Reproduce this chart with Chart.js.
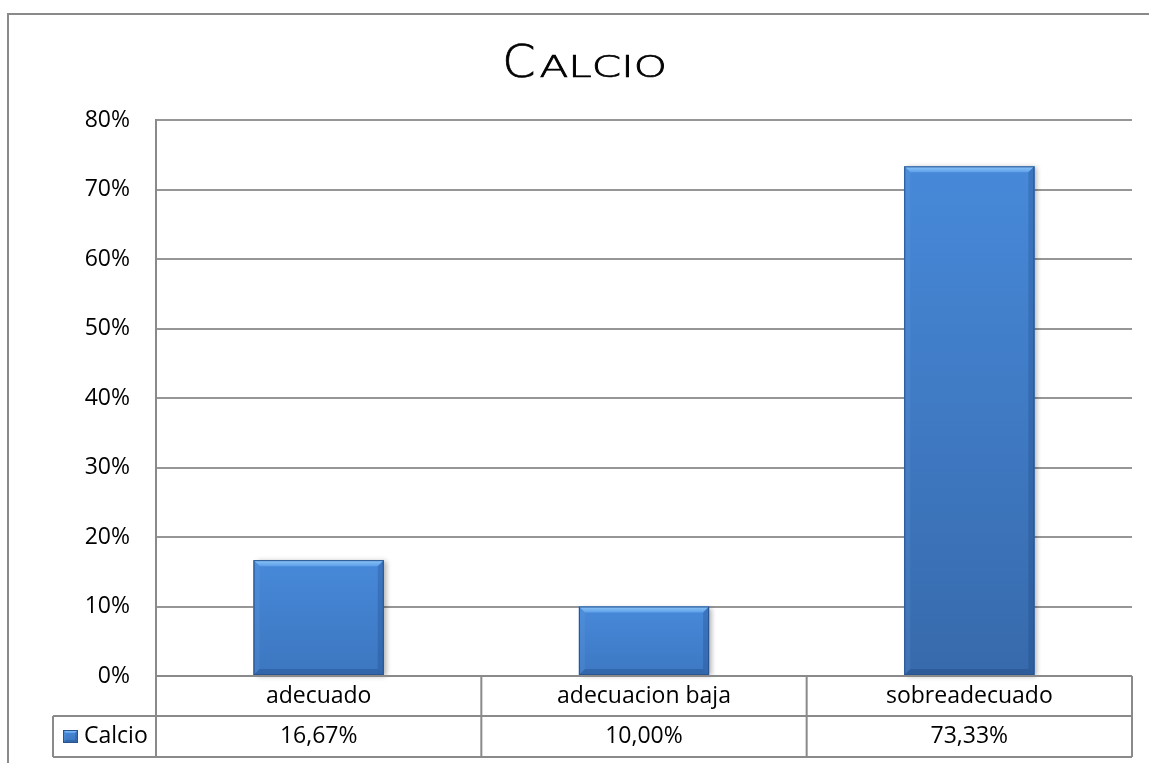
<!DOCTYPE html>
<html>
<head>
<meta charset="utf-8">
<title>Calcio</title>
<script src="https://cdn.jsdelivr.net/npm/chart.js@4/dist/chart.umd.min.js"></script>
<style>
  html, body { margin: 0; padding: 0; background: #ffffff; }
  #wrap { width: 1149px; height: 763px; position: relative; }
</style>
</head>
<body>
<div id="wrap"><canvas id="chart" width="1149" height="763"></canvas></div>
<script>
// ---- data ----
const chartTitle = 'Calcio';
const seriesName = 'Calcio';
const categories = ['adecuado', 'adecuacion baja', 'sobreadecuado'];
const calcioValues = [16.67, 10.00, 73.33];
const yMin = 0;
const yMax = 80;
const yStep = 10;

const textFont = "'Open Sans', 'Liberation Sans', sans-serif";
const lineGray = '#8a8a8a';

function fmtPct(v) {
  return v.toFixed(2).replace('.', ',') + '%';
}

// blend two hex colours
function mix(a, b, t) {
  const pa = [1, 3, 5].map(i => parseInt(a.substr(i, 2), 16));
  const pb = [1, 3, 5].map(i => parseInt(b.substr(i, 2), 16));
  const c = pa.map((v, i) => Math.round(v + (pb[i] - v) * t));
  return 'rgb(' + c.join(',') + ')';
}

// paints a bevelled blue block inside the given rectangle
function bevelBlock(ctx, l, t, w, h, depth, b) {
  const r = l + w, bt = t + h;
  const face = ctx.createLinearGradient(0, t, 0, bt);
  face.addColorStop(0, '#4789d9');
  face.addColorStop(1, mix('#3e7ac6', '#3668aa', depth));
  ctx.fillStyle = face;
  ctx.fillRect(l, t, w, h);

  // top bevel
  const tg = ctx.createLinearGradient(0, t, 0, t + b);
  tg.addColorStop(0, '#8ec6f8');
  tg.addColorStop(1, '#5d9fe8');
  ctx.fillStyle = tg;
  ctx.beginPath();
  ctx.moveTo(l, t); ctx.lineTo(r, t); ctx.lineTo(r - b, t + b); ctx.lineTo(l + b, t + b);
  ctx.closePath(); ctx.fill();

  // left bevel
  ctx.fillStyle = 'rgba(120,170,230,0.16)';
  ctx.beginPath();
  ctx.moveTo(l, t); ctx.lineTo(l + b, t + b); ctx.lineTo(l + b, bt - b); ctx.lineTo(l, bt);
  ctx.closePath(); ctx.fill();

  // right bevel
  ctx.fillStyle = 'rgba(15,45,95,0.2)';
  ctx.beginPath();
  ctx.moveTo(r, t); ctx.lineTo(r - b, t + b); ctx.lineTo(r - b, bt - b); ctx.lineTo(r, bt);
  ctx.closePath(); ctx.fill();

  // bottom bevel
  ctx.fillStyle = 'rgba(10,35,80,0.2)';
  ctx.beginPath();
  ctx.moveTo(l, bt); ctx.lineTo(l + b, bt - b); ctx.lineTo(r - b, bt - b); ctx.lineTo(r, bt);
  ctx.closePath(); ctx.fill();

  ctx.strokeStyle = '#28548f';
  ctx.lineWidth = 1;
  ctx.strokeRect(l + 0.5, t + 0.5, w - 1, h - 1);
}

// outer frame and background
const framePlugin = {
  id: 'frame',
  beforeDraw(chart) {
    const ctx = chart.ctx;
    ctx.save();
    ctx.fillStyle = '#ffffff';
    ctx.fillRect(0, 0, chart.width, chart.height);
    ctx.strokeStyle = lineGray;
    ctx.lineWidth = 2;
    ctx.strokeRect(8, 14, chart.width + 40, chart.height + 40);
    ctx.restore();
  }
};

// small-caps title: a tall initial followed by wide, shorter capitals
const titlePlugin = {
  id: 'smallCapsTitle',
  afterDraw(chart) {
    const ctx = chart.ctx;
    const word = chartTitle.toUpperCase();
    const first = word.charAt(0);
    const rest = word.slice(1);
    const family = "'DejaVu Sans', sans-serif";
    const bigFont = '200 45px ' + family;
    const smallFont = '200 31px ' + family;
    const bigStretch = 1.06;
    const stretch = 1.36;
    ctx.save();
    ctx.fillStyle = '#000000';
    ctx.strokeStyle = '#000000';
    ctx.lineWidth = 0.7;
    ctx.textBaseline = 'alphabetic';
    ctx.textAlign = 'left';
    if ('letterSpacing' in ctx) ctx.letterSpacing = '0px';
    ctx.font = bigFont;
    const w1 = ctx.measureText(first).width * bigStretch;
    ctx.font = smallFont;
    const w2 = ctx.measureText(rest).width * stretch;
    const gap = 4;
    const cx = 584.5;
    const x0 = cx - (w1 + gap + w2) / 2;
    const base = 77;

    ctx.save();
    ctx.font = bigFont;
    ctx.translate(x0, base);
    ctx.scale(bigStretch, 1);
    ctx.fillText(first, 0, 0);
    ctx.strokeText(first, 0, 0);
    ctx.restore();

    ctx.font = smallFont;
    ctx.translate(x0 + w1 + gap, base);
    ctx.scale(stretch, 1);
    ctx.fillText(rest, 0, 0);
    ctx.strokeText(rest, 0, 0);
    ctx.restore();
  }
};

// bar shadows and bevels
const bevelPlugin = {
  id: 'bevel',
  beforeDatasetsDraw(chart) {
    const ctx = chart.ctx;
    const meta = chart.getDatasetMeta(0);
    ctx.save();
    meta.data.forEach(el => {
      const p = el.getProps(['x', 'y', 'base', 'width'], true);
      const l = p.x - p.width / 2;
      ctx.shadowColor = 'rgba(0,0,0,0.3)';
      ctx.shadowBlur = 5;
      ctx.shadowOffsetX = 3;
      ctx.shadowOffsetY = 1;
      ctx.fillStyle = '#3f7bc8';
      ctx.fillRect(l, p.y, p.width, p.base - p.y);
    });
    ctx.restore();
  },
  afterDatasetsDraw(chart) {
    const ctx = chart.ctx;
    const meta = chart.getDatasetMeta(0);
    const area = chart.chartArea;
    ctx.save();
    meta.data.forEach(el => {
      const p = el.getProps(['x', 'y', 'base', 'width'], true);
      const l = p.x - p.width / 2;
      const h = p.base - p.y;
      bevelBlock(ctx, l, p.y, p.width, h, h / (area.bottom - area.top), 6);
    });
    ctx.restore();
  }
};

// data table under the plot
const tablePlugin = {
  id: 'dataTable',
  afterDraw(chart) {
    const ctx = chart.ctx;
    const xs = chart.scales.x;
    const area = chart.chartArea;
    const rowTop = area.bottom;
    const rowMid = rowTop + 40;
    const rowBot = rowTop + 81;
    const legendLeft = 53;

    const centers = categories.map((_, i) => xs.getPixelForValue(i));
    const bounds = [area.left];
    for (let i = 1; i < centers.length; i++) bounds.push((centers[i - 1] + centers[i]) / 2);
    bounds.push(area.right);

    ctx.save();
    ctx.strokeStyle = lineGray;
    ctx.lineWidth = 2;
    ctx.beginPath();
    ctx.moveTo(area.left, rowTop); ctx.lineTo(area.right, rowTop);
    ctx.moveTo(legendLeft, rowMid); ctx.lineTo(area.right, rowMid);
    ctx.moveTo(legendLeft, rowBot); ctx.lineTo(area.right, rowBot);
    bounds.forEach(b => { ctx.moveTo(b, rowTop); ctx.lineTo(b, rowBot); });
    ctx.moveTo(legendLeft, rowMid); ctx.lineTo(legendLeft, rowBot);
    ctx.stroke();

    ctx.fillStyle = '#000000';
    ctx.font = '23px ' + textFont;
    ctx.textAlign = 'center';
    ctx.textBaseline = 'middle';
    categories.forEach((c, i) => ctx.fillText(c, centers[i], (rowTop + rowMid) / 2));
    calcioValues.forEach((v, i) => ctx.fillText(fmtPct(v), centers[i], (rowMid + rowBot) / 2));

    // legend key
    bevelBlock(ctx, 63, 730, 15, 13, 0.3, 3);
    ctx.fillStyle = '#000000';
    ctx.textAlign = 'left';
    ctx.fillText(seriesName, 84, (rowMid + rowBot) / 2);
    ctx.restore();
  }
};

new Chart(document.getElementById('chart'), {
  type: 'bar',
  data: {
    labels: categories,
    datasets: [{
      label: seriesName,
      data: calcioValues,
      backgroundColor: '#3f7bc8',
      borderWidth: 0,
      categoryPercentage: 1,
      barPercentage: 0.4
    }]
  },
  options: {
    responsive: false,
    devicePixelRatio: 1,
    animation: false,
    layout: { padding: { top: 120, right: 17, bottom: 87, left: 0 } },
    plugins: {
      legend: { display: false },
      title: { display: false },
      tooltip: { enabled: false }
    },
    scales: {
      x: {
        display: false
      },
      y: {
        min: yMin,
        max: yMax,
        afterFit(scale) { scale.width = 156; },
        ticks: {
          stepSize: yStep,
          padding: 26,
          color: '#000000',
          font: { family: textFont, size: 23 },
          callback: v => v + '%'
        },
        grid: { color: '#969696', lineWidth: 2, drawTicks: false },
        border: { display: true, color: lineGray, width: 2 }
      }
    }
  },
  plugins: [framePlugin, bevelPlugin, tablePlugin, titlePlugin]
});
</script>
</body>
</html>
